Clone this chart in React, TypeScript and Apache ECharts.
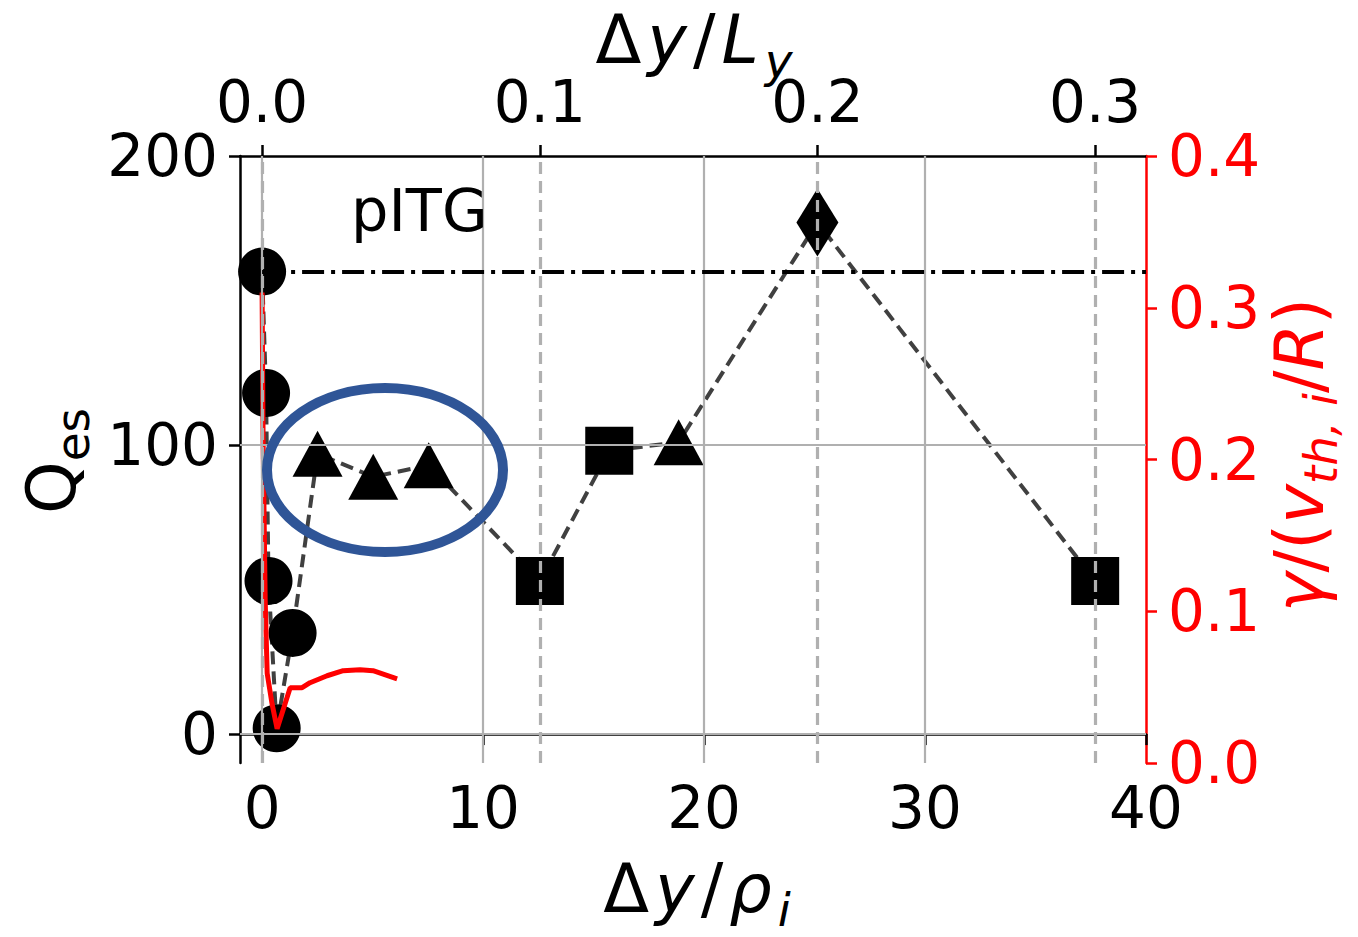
import React, { useEffect, useRef } from "react";
import * as echarts from "echarts";

// ---- axes ----
const LY = 40 * Math.PI; // L_y in units of rho_i
const X_MIN = -1;
const X_MAX = 40;
const Q_MIN = -10;
const Q_MAX = 200;
const G_MIN = 0;
const G_MAX = 0.4;
const G_STEP = 0.1;
const X_TICKS = [0, 10, 20, 30, 40];
const TOP_TICKS = [0, 0.1, 0.2, 0.3];
const Q_TICKS = [0, 100, 200];
const REF_Q = 160;

// ---- Q_es markers (x = Δy/ρi) ----
const circleX = [0, 0.18, 0.29, 0.66, 1.38];
const circleQ = [160, 118, 53, 2, 35];
const triX = [2.51, 5.03, 7.54, 18.85];
const triQ = [97, 89, 93, 101];
const sqX = [12.57, 15.71, 37.7];
const sqQ = [53, 98, 53];
const diaX = [25.13];
const diaQ = [177];

// ---- growth rate (red) ----
const gammaX = [0, 0.045, 0.14, 0.23, 0.45, 0.68, 1.27, 1.81, 2.17, 2.94, 3.67, 4.43, 5.02, 6.11];
const gammaY = [0.31, 0.213, 0.107, 0.059, 0.039, 0.0225, 0.0496, 0.0496, 0.0529, 0.0575, 0.0608, 0.0615, 0.0608, 0.0555];

const F = "DejaVu Sans";
const TICK_FS = 58;
const TITLE_FS = 67;
const SUB_FS = 47;

function zip(xs: number[], ys: number[]) {
  return xs.map((x, i) => [x, ys[i]]);
}

function richStyles(color: string, pad: number) {
  const base = { fontFamily: F, fill: color, color, verticalAlign: "middle" };
  return {
    n: { ...base, fontSize: TITLE_FS, fontStyle: "normal", lineHeight: 60, padding: [0, pad, 0, pad] },
    i: { ...base, fontSize: TITLE_FS, fontStyle: "italic", lineHeight: 60, padding: [0, pad, 0, pad] },
    u: { ...base, fontSize: SUB_FS, fontStyle: "normal", lineHeight: 10, padding: [40, pad, 0, pad] },
    s: { ...base, fontSize: SUB_FS, fontStyle: "italic", lineHeight: 10, padding: [40, pad, 0, pad] },
  };
}

export default function App() {
  const ref = useRef<HTMLDivElement>(null);
  useEffect(() => {
    document.body.style.margin = "0";
    const chart = echarts.init(ref.current!, null, { renderer: "svg" });
    const allPts = [
      ...zip(circleX, circleQ),
      ...zip(triX, triQ),
      ...zip(sqX, sqQ),
      ...zip(diaX, diaQ),
    ].sort((a, b) => a[0] - b[0]);

    const axisLabelBase = { fontSize: TICK_FS, fontFamily: F, color: "#000" };
    const marker = { color: "#000", opacity: 1 };

    chart.setOption({
      animation: false,
      backgroundColor: "#fff",
      grid: { left: 240, right: 212, top: 156, bottom: 174, containLabel: false, outerBoundsMode: "none" },
      xAxis: [
        {
          type: "value",
          position: "bottom",
          min: X_MIN,
          max: X_MAX,
          axisLine: { show: true, lineStyle: { color: "#000", width: 2.5 } },
          axisTick: { show: true, customValues: X_TICKS, length: 11, lineStyle: { color: "#000", width: 2.5 } },
          axisLabel: { ...axisLabelBase, customValues: X_TICKS, margin: 16 },
          splitLine: { show: false },
        },
        {
          type: "value",
          position: "top",
          min: X_MIN / LY,
          max: X_MAX / LY,
          axisLine: { show: true, onZero: false, lineStyle: { color: "#000", width: 2.5 } },
          axisTick: { show: true, customValues: TOP_TICKS, length: 11, lineStyle: { color: "#000", width: 2.5 } },
          axisLabel: { ...axisLabelBase, customValues: TOP_TICKS, margin: 25, formatter: (v: number) => v.toFixed(1) },
          splitLine: { show: false },
        },
      ],
      yAxis: [
        {
          type: "value",
          position: "left",
          min: Q_MIN,
          max: Q_MAX,
          axisLine: { show: true, onZero: false, lineStyle: { color: "#000", width: 2.5 } },
          axisTick: { show: true, customValues: Q_TICKS, length: 11, lineStyle: { color: "#000", width: 2.5 } },
          axisLabel: { ...axisLabelBase, customValues: Q_TICKS, margin: 22 },
          splitLine: { show: false },
        },
        {
          type: "value",
          position: "right",
          min: G_MIN,
          max: G_MAX,
          interval: G_STEP,
          axisLine: { show: true, onZero: false, lineStyle: { color: "#ff0000", width: 2.5 } },
          axisTick: { show: true, length: 11, lineStyle: { color: "#ff0000", width: 2.5 } },
          axisLabel: { ...axisLabelBase, color: "#ff0000", margin: 22, formatter: (v: number) => v.toFixed(1) },
          splitLine: { show: false },
        },
      ],
      series: [
        {
          type: "line",
          xAxisIndex: 0,
          yAxisIndex: 0,
          data: [],
          z: 1,
          silent: true,
          markLine: {
            silent: true,
            symbol: ["none", "none"],
            label: { show: false },
            lineStyle: { color: "#b0b0b0", width: 2.2, type: "solid" },
            data: [
              ...X_TICKS.filter((v) => v > X_MIN && v < X_MAX).map((v) => ({ xAxis: v })),
              ...Q_TICKS.filter((v) => v > Q_MIN && v < Q_MAX).map((v) => ({ yAxis: v })),
            ],
          },
        },
        {
          type: "line",
          xAxisIndex: 0,
          yAxisIndex: 0,
          data: [],
          z: 1,
          silent: true,
          markLine: {
            silent: true,
            symbol: ["none", "none"],
            label: { show: false },
            lineStyle: { color: "#b0b0b0", width: 3.2, type: [12, 7] },
            data: TOP_TICKS.map((v) => ({ xAxis: v * LY })),
          },
        },
        {
          type: "line",
          xAxisIndex: 0,
          yAxisIndex: 0,
          data: [],
          z: 2,
          silent: true,
          markLine: {
            silent: true,
            symbol: ["none", "none"],
            label: { show: false },
            lineStyle: { color: "#000", width: 3.8, type: [22, 7, 4, 7] },
            data: [[{ coord: [0, REF_Q] }, { coord: [X_MAX, REF_Q] }]],
          },
        },
        {
          type: "line",
          xAxisIndex: 0,
          yAxisIndex: 0,
          data: allPts,
          showSymbol: false,
          symbol: "none",
          z: 2,
          lineStyle: { color: "#404040", width: 4, type: [13, 7] },
        },
        {
          type: "scatter",
          data: zip(circleX, circleQ),
          symbol: "circle",
          symbolSize: 48,
          itemStyle: marker,
          z: 3,
        },
        {
          type: "scatter",
          data: zip(triX, triQ),
          symbol: "triangle",
          symbolSize: [50, 46],
          itemStyle: marker,
          z: 3,
        },
        {
          type: "scatter",
          data: zip(sqX, sqQ),
          symbol: "rect",
          symbolSize: 48,
          itemStyle: marker,
          z: 3,
        },
        {
          type: "scatter",
          data: zip(diaX, diaQ),
          symbol: "diamond",
          symbolSize: [42, 68],
          itemStyle: marker,
          z: 3,
        },
        {
          type: "line",
          xAxisIndex: 0,
          yAxisIndex: 1,
          data: zip(gammaX, gammaY),
          showSymbol: false,
          symbol: "none",
          z: 4,
          lineStyle: { color: "#ff0000", width: 5 },
        },
      ],
      graphic: [
        {
          type: "ellipse",
          z: 100,
          silent: true,
          shape: { cx: 385, cy: 470, rx: 118, ry: 82 },
          style: { fill: "none", stroke: "#2f5597", lineWidth: 10 },
        },
        {
          type: "text",
          z: 100,
          x: 351,
          y: 210,
          style: { text: "pITG", fontSize: 59, fontFamily: F, fill: "#000", align: "left", verticalAlign: "middle" },
        },
        {
          type: "text",
          z: 100,
          x: 697,
          y: 889,
          style: {
            text: "{n|Δ}{i|y}{n|/}{i|ρ}{s|i}",
            fill: "#000",
            align: "center",
            verticalAlign: "middle",
            rich: richStyles("#000", 3),
          },
        },
        {
          type: "text",
          z: 100,
          x: 694,
          y: 40,
          style: {
            text: "{n|Δ}{i|y}{n|/}{i|L}{s|y}",
            fill: "#000",
            align: "center",
            verticalAlign: "middle",
            rich: richStyles("#000", 3),
          },
        },
        {
          type: "text",
          z: 100,
          x: 52,
          y: 461,
          rotation: Math.PI / 2,
          style: {
            text: "{n|Q}{u|es}",
            fill: "#000",
            align: "center",
            verticalAlign: "middle",
            rich: richStyles("#000", 0),
          },
        },
        {
          type: "text",
          z: 100,
          x: 1300,
          y: 455,
          rotation: Math.PI / 2,
          style: {
            text: "{i|γ}{n|/(}{i|v}{s|th, i}{n|/}{i|R}{n|)}",
            fill: "#ff0000",
            align: "center",
            verticalAlign: "middle",
            rich: richStyles("#ff0000", 0),
          },
        },
      ],
    });
    return () => chart.dispose();
  }, []);
  return <div ref={ref} style={{ position: "fixed", left: 0, top: 0, width: 1358, height: 937 }} />;
}
